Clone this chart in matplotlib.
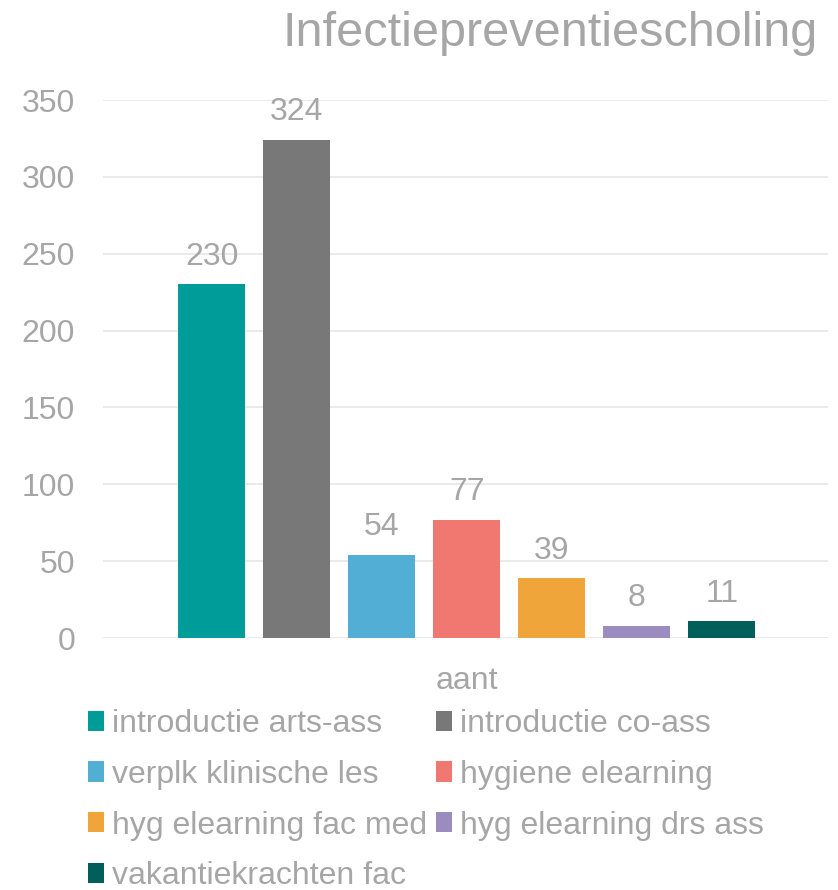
import matplotlib.pyplot as plt
from matplotlib.patches import Patch

plt.rcParams['font.family'] = ['Liberation Sans', 'DejaVu Sans']

# data
reeksen = ["introductie arts-ass", "introductie co-ass", "verplk klinische les",
           "hygiene elearning", "hyg elearning fac med", "hyg elearning drs ass",
           "vakantiekrachten fac"]
aantallen = [230, 324, 54, 77, 39, 8, 11]
kleuren = ["#009C99", "#787878", "#52AED5", "#F07870", "#F0A53A", "#9A8CBE", "#005E5B"]
categorie = "aant"
yticks = [0, 50, 100, 150, 200, 250, 300, 350]

tekst = "#A6A6A6"

fig = plt.figure(figsize=(8.38, 8.9), dpi=100)
ax = fig.add_axes([103/838, 1 - 638/890, 725/838, 538/890])

posities = list(range(len(aantallen)))
staven = ax.bar(posities, aantallen, width=0.79, color=kleuren, zorder=3)
ax.bar_label(staven, padding=9, fontsize=23, color=tekst)

ax.set_xlim(-1.28, 7.25)
ax.set_ylim(0, 350)
ax.set_yticks(yticks)
ax.set_xticks([3])
ax.set_xticklabels([categorie])
ax.tick_params(axis='both', length=0, labelsize=23, labelcolor=tekst)
ax.tick_params(axis='y', pad=20)
ax.tick_params(axis='x', pad=20)
ax.grid(axis='y', color='#E6E6E6', linewidth=1.2, zorder=0)
for kant in ax.spines.values():
    kant.set_visible(False)

fig.text(818/838, 1 - 33/890, "Infectiepreventiescholing", ha='right', va='center',
         fontsize=35, color=tekst)

# legenda rij voor rij vullen (matplotlib vult kolom voor kolom)
volgorde = [0, 2, 4, 6, 1, 3, 5]
handles = [Patch(facecolor=kleuren[i], edgecolor='none') for i in volgorde]
labels = [reeksen[i] for i in volgorde]
fig.legend(handles, labels, ncol=2, loc='upper left', bbox_to_anchor=(88/838, 1 - 709/890),
           frameon=False, fontsize=23, labelcolor=tekst, handlelength=0.5, handleheight=0.6,
           handletextpad=0.25, columnspacing=0.28, labelspacing=0.65, borderaxespad=0,
           borderpad=0)

fig.savefig("out.png", dpi=100)
